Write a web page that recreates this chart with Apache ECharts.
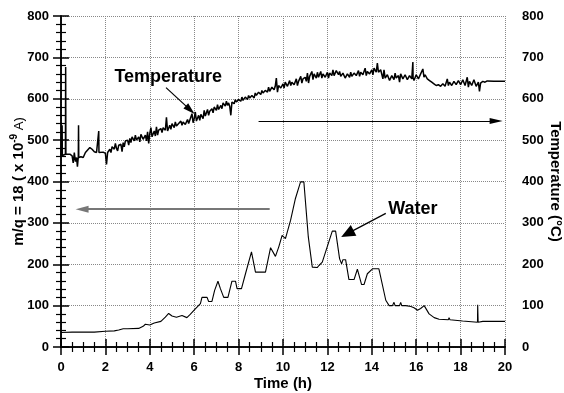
<!DOCTYPE html>
<html>
<head>
<meta charset="utf-8">
<script src="https://cdn.jsdelivr.net/npm/echarts@6/dist/echarts.min.js"></script>
<style>
  html, body { margin: 0; padding: 0; background: #fff; }
  #chart { width: 564px; height: 393px; }
</style>
</head>
<body>
<div id="chart"></div>
<script>
// water signal, m/q = 18 (x 1e-9 A), [time h, value]
const waterData = [
  [0, 35], [0.5, 36], [1, 36], [1.5, 36], [2, 38], [2.4, 39], [2.6, 41], [2.8, 44], [3.0, 44],
  [3.5, 45], [3.7, 50], [3.8, 55], [4.0, 53], [4.2, 58], [4.5, 62], [4.7, 72], [4.85, 81],
  [5.0, 75], [5.2, 72], [5.45, 76], [5.67, 71], [5.82, 79], [6.05, 92], [6.28, 105], [6.35, 120],
  [6.58, 120], [6.65, 110], [6.8, 110], [6.92, 137], [7.07, 159], [7.18, 141], [7.33, 120],
  [7.52, 120], [7.7, 159], [7.86, 159], [7.93, 141], [8.13, 141], [8.31, 177], [8.58, 230],
  [8.76, 181], [9.21, 181], [9.44, 240], [9.51, 238], [9.66, 219], [9.81, 242], [9.96, 270],
  [10.11, 262], [10.34, 306], [10.56, 359], [10.79, 399], [10.94, 399], [11.14, 266], [11.32, 193],
  [11.54, 192], [11.62, 197], [11.77, 205], [12.22, 280], [12.37, 280], [12.55, 213], [12.64, 201],
  [12.7, 211], [12.82, 211], [12.97, 163], [13.2, 163], [13.35, 188], [13.54, 151], [13.65, 151],
  [13.8, 177], [14.03, 189], [14.32, 189], [14.63, 113], [14.78, 100], [14.93, 100], [15.0, 108],
  [15.05, 100], [15.25, 100], [15.3, 108], [15.35, 100], [15.53, 100], [15.76, 98], [15.9, 95],
  [16.06, 89], [16.2, 93], [16.36, 100], [16.58, 80], [16.81, 71], [17.03, 67], [17.45, 66],
  [17.48, 71], [17.52, 66], [18.09, 63], [18.76, 60], [18.77, 102], [18.79, 60], [19.0, 62],
  [19.6, 62], [20, 62]
];

// temperature (°C), [time h, value]
const temperatureData = [
  [0, 462], [0.04, 464], [0.05, 536], [0.06, 463], [0.12, 466], [0.2, 466], [0.21, 677], [0.22, 466],
  [0.3, 468], [0.4, 466], [0.5, 462], [0.55, 445], [0.6, 470], [0.65, 448], [0.7, 458], [0.74, 436],
  [0.78, 460], [0.79, 536], [0.8, 458], [0.9, 460], [1.0, 458], [1.1, 470], [1.2, 476], [1.3, 482],
  [1.4, 478], [1.5, 472], [1.6, 470], [1.69, 470], [1.7, 522], [1.71, 470], [1.8, 468], [1.9, 471],
  [2.0, 468], [2.05, 441], [2.1, 470], [2.2, 478], [2.25, 470], [2.3, 484], [2.4, 478], [2.45, 492],
  [2.5, 480], [2.55, 474], [2.6, 488], [2.7, 490], [2.75, 472], [2.8, 494], [2.85, 484], [2.9, 498],
  [3.0, 500], [3.05, 488], [3.1, 504], [3.15, 494], [3.2, 508], [3.3, 498], [3.35, 512], [3.4, 500],
  [3.5, 508], [3.55, 496], [3.6, 514], [3.7, 502], [3.8, 512], [3.85, 498], [3.9, 520], [3.95, 492],
  [4.0, 516], [4.05, 530], [4.1, 508], [4.2, 522], [4.25, 510], [4.3, 532], [4.35, 512], [4.4, 524],
  [4.5, 528], [4.55, 518], [4.6, 530], [4.7, 524], [4.75, 555], [4.8, 522], [4.9, 536], [4.95, 526],
  [5.0, 540], [5.1, 530], [5.15, 544], [5.2, 534], [5.3, 540], [5.4, 546], [5.45, 536], [5.5, 544],
  [5.6, 538], [5.7, 550], [5.75, 540], [5.8, 548], [5.9, 564], [5.95, 542], [6.0, 552], [6.05, 568],
  [6.1, 546], [6.2, 560], [6.25, 548], [6.3, 562], [6.4, 552], [6.45, 572], [6.5, 558], [6.6, 574],
  [6.65, 560], [6.7, 570], [6.8, 576], [6.85, 566], [6.9, 580], [7.0, 572], [7.05, 586], [7.1, 574],
  [7.2, 584], [7.25, 576], [7.3, 590], [7.4, 582], [7.45, 594], [7.5, 584], [7.55, 590], [7.6, 582],
  [7.65, 560], [7.7, 592], [7.8, 588], [7.85, 598], [7.9, 592], [8.0, 598], [8.1, 594], [8.15, 604],
  [8.2, 596], [8.3, 604], [8.4, 598], [8.45, 608], [8.5, 602], [8.6, 608], [8.7, 602], [8.75, 614],
  [8.8, 608], [8.9, 616], [9.0, 610], [9.05, 620], [9.1, 614], [9.2, 620], [9.3, 616], [9.35, 628],
  [9.4, 618], [9.5, 628], [9.6, 622], [9.65, 630], [9.7, 650], [9.75, 616], [9.8, 632], [9.9, 626],
  [10.0, 636], [10.05, 626], [10.1, 640], [10.2, 630], [10.3, 644], [10.35, 632], [10.4, 640],
  [10.5, 634], [10.6, 648], [10.65, 632], [10.7, 642], [10.8, 654], [10.85, 638], [10.9, 648],
  [11.0, 652], [11.05, 642], [11.1, 662], [11.15, 638], [11.2, 654], [11.3, 666], [11.35, 646],
  [11.4, 660], [11.5, 650], [11.55, 664], [11.6, 652], [11.7, 666], [11.75, 650], [11.8, 660],
  [11.9, 652], [12.0, 664], [12.05, 650], [12.1, 662], [12.2, 656], [12.25, 670], [12.3, 656],
  [12.4, 668], [12.5, 658], [12.55, 666], [12.6, 654], [12.7, 662], [12.8, 650], [12.9, 660],
  [13.0, 652], [13.05, 664], [13.1, 654], [13.2, 662], [13.3, 656], [13.4, 668], [13.45, 654],
  [13.5, 664], [13.6, 658], [13.7, 674], [13.75, 656], [13.8, 666], [13.9, 660], [14.0, 670],
  [14.05, 658], [14.1, 674], [14.2, 664], [14.25, 686], [14.3, 664], [14.4, 670], [14.5, 648],
  [14.55, 670], [14.6, 650], [14.7, 658], [14.8, 644], [14.9, 656], [15.0, 646], [15.05, 662],
  [15.1, 650], [15.2, 656], [15.25, 640], [15.3, 660], [15.4, 648], [15.5, 658], [15.6, 646],
  [15.7, 656], [15.8, 648], [15.84, 652], [15.85, 689], [15.86, 650], [15.9, 644], [16.0, 658],
  [16.1, 648], [16.2, 660], [16.3, 672], [16.35, 652], [16.4, 658], [16.5, 648], [16.6, 644],
  [16.7, 640], [16.8, 636], [16.9, 632], [17.0, 634], [17.1, 630], [17.2, 636], [17.3, 630],
  [17.4, 648], [17.45, 632], [17.5, 640], [17.6, 632], [17.7, 642], [17.8, 634], [17.9, 644],
  [18.0, 634], [18.1, 646], [18.2, 632], [18.3, 652], [18.35, 628], [18.4, 642], [18.5, 632],
  [18.6, 646], [18.7, 630], [18.8, 640], [18.85, 618], [18.9, 638], [19.0, 642], [19.1, 640],
  [19.2, 643], [19.5, 642], [20, 642]
];

// annotations: label text + where it sits, arrows as [from, to]
const labels = [
  { text: 'Temperature', at: [4.83, 652] },
  { text: 'Water', at: [15.85, 333] }
];
const arrows = [
  { from: [4.73, 627], to: [5.82, 573], color: '#000', width: 1.2, size: [7, 12] },
  { from: [14.63, 323], to: [12.9, 274], color: '#000', width: 1.2, size: [12, 14] },
  { from: [8.9, 546], to: [19.6, 546], color: '#000', width: 1.2, size: [6, 13] },
  { from: [9.4, 333], to: [0.95, 333], color: '#777', width: 2, size: [7, 13] }
];

const font = 'Liberation Sans, Arial, sans-serif';
const black = '#000';

const axisCommon = {
  type: 'value',
  axisLine: { show: true, lineStyle: { color: black, width: 1.5 } },
  axisTick: { show: true, length: 8, lineStyle: { color: black, width: 1.5 } },
  minorSplitLine: { show: false },
  nameMoveOverlap: false
};
const minor = n => ({ show: true, splitNumber: n, length: 5, lineStyle: { color: black, width: 1.2 } });

const gridLine = { show: true, lineStyle: { color: '#888', width: 1, type: 'dotted' } };
const tickLabel = { color: black, fontFamily: font, fontWeight: 'bold', fontSize: 13 };

const chart = echarts.init(document.getElementById('chart'), null, { renderer: 'canvas' });

const option = {
  animation: false,
  backgroundColor: '#fff',
  grid: { left: 61, right: 59, top: 16, bottom: 46, containLabel: false, outerBoundsMode: 'none' },
  xAxis: [
    {
      ...axisCommon,
      position: 'bottom',
      min: 0,
      max: 20,
      interval: 2,
      minorTick: minor(4),
      axisLabel: { ...tickLabel, margin: 14 },
      splitLine: gridLine,
      name: 'Time (h)',
      nameLocation: 'middle',
      nameGap: 29,
      nameTextStyle: { color: black, fontFamily: font, fontWeight: 'bold', fontSize: 15 }
    },
    {
      ...axisCommon,
      position: 'top',
      min: 0,
      max: 20,
      interval: 2,
      minorTick: minor(4),
      axisLabel: { show: false },
      splitLine: { show: false }
    }
  ],
  yAxis: [
    {
      ...axisCommon,
      position: 'left',
      min: 0,
      max: 800,
      interval: 100,
      minorTick: minor(5),
      axisLabel: { ...tickLabel, margin: 12 },
      splitLine: gridLine,
      name: '{a|m/q = 18 ( x 10}{s|-9}{b| A)}',
      nameLocation: 'middle',
      nameGap: 42,
      nameTextStyle: {
        color: black,
        fontFamily: font,
        verticalAlign: 'middle',
        rich: {
          a: { fontFamily: font, fontWeight: 'bold', fontSize: 15, color: black },
          s: { fontFamily: font, fontWeight: 'bold', fontSize: 10, color: black, padding: [0, 0, 9, 0] },
          b: { fontFamily: font, fontSize: 13, color: black }
        }
      }
    },
    {
      ...axisCommon,
      position: 'right',
      min: 0,
      max: 800,
      interval: 100,
      minorTick: minor(5),
      axisLabel: { ...tickLabel, margin: 17 },
      splitLine: { show: false },
      name: 'Temperature (°C)',
      nameLocation: 'middle',
      nameRotate: -90,
      nameGap: 50,
      nameTextStyle: { color: black, fontFamily: font, fontWeight: 'bold', fontSize: 15, verticalAlign: 'middle' }
    }
  ],
  series: [
    {
      name: 'Water',
      type: 'line',
      xAxisIndex: 0,
      yAxisIndex: 0,
      data: waterData,
      showSymbol: false,
      symbol: 'none',
      lineStyle: { color: black, width: 1.1 },
      silent: true
    },
    {
      name: 'Temperature',
      type: 'line',
      xAxisIndex: 0,
      yAxisIndex: 1,
      data: temperatureData,
      showSymbol: false,
      symbol: 'none',
      lineStyle: { color: black, width: 1.5 },
      silent: true
    },
    {
      name: 'notes',
      type: 'line',
      xAxisIndex: 0,
      yAxisIndex: 0,
      data: [],
      silent: true,
      markLine: {
        silent: true,
        animation: false,
        label: { show: false },
        emphasis: { disabled: true },
        data: arrows.map(a => [
          { coord: a.from, symbol: 'none', lineStyle: { color: a.color, width: a.width, type: 'solid' } },
          { coord: a.to, symbol: 'triangle', symbolSize: a.size, lineStyle: { color: a.color, width: a.width, type: 'solid' }, itemStyle: { color: a.color } }
        ])
      },
      markPoint: {
        silent: true,
        symbol: 'circle',
        symbolSize: 1,
        itemStyle: { color: 'rgba(0,0,0,0)' },
        label: {
          show: true,
          position: 'inside',
          color: black,
          fontFamily: font,
          fontWeight: 'bold',
          fontSize: 18
        },
        data: labels.map(l => ({ coord: l.at, value: l.text, label: { formatter: l.text } }))
      }
    }
  ]
};

chart.setOption(option);
</script>
</body>
</html>
